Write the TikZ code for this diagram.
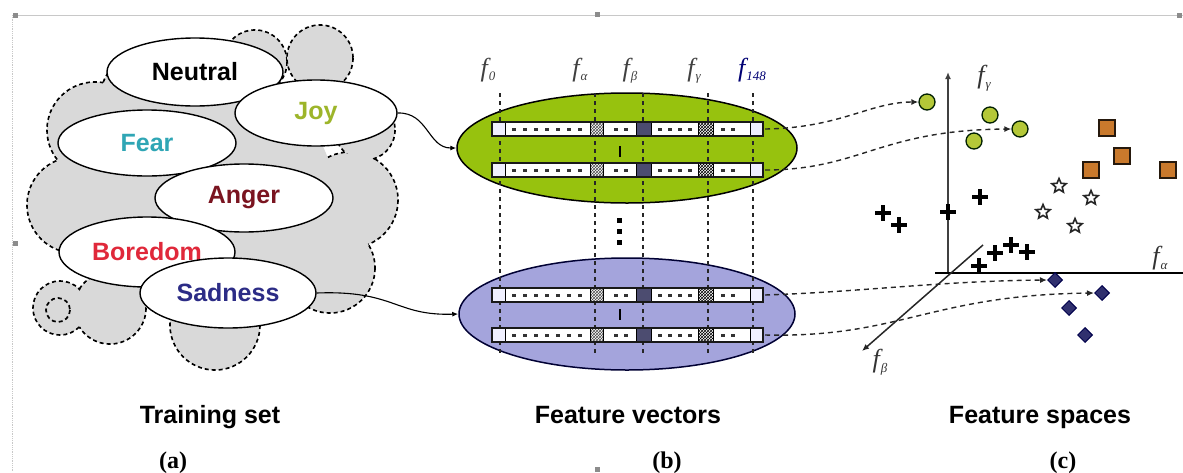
\documentclass[tikz,border=0pt]{standalone}
\usepackage{fontspec}
\setmainfont{Liberation Sans}
\newfontfamily\seriffont{Liberation Serif}
\usetikzlibrary{patterns,arrows.meta,shapes.geometric}
\definecolor{cloudgray}{HTML}{D9D9D9}
\definecolor{joycol}{HTML}{9DB52A}
\definecolor{fearcol}{HTML}{2FA6B5}
\definecolor{angercol}{HTML}{7A1420}
\definecolor{borecol}{HTML}{E0283A}
\definecolor{sadcol}{HTML}{2C2C86}
\definecolor{greenfill}{HTML}{97C20E}
\definecolor{bluefill}{HTML}{A4A4DC}
\definecolor{gdot}{HTML}{B4C838}
\definecolor{osq}{HTML}{C9792C}
\definecolor{dia}{HTML}{30306E}
\definecolor{framegray}{HTML}{C8C8C8}
\newcommand\flab[1]{{\seriffont\itshape f\kern1pt\raisebox{-0.4ex}{\fontsize{13}{13}\selectfont #1}}}
\newcommand\vrow[2]{%
  \fill[white] (492,#2-7) rectangle (763,#2+7);
  \fill[blue!6] (492,#2-7) rectangle (505,#2+7);
  \fill[blue!6] (750,#2-7) rectangle (763,#2+7);
  \fill[pattern=crosshatch,pattern color=black!70] (590,#2-7) rectangle (603,#2+7);
  \fill[black!65!blue!40!gray] (636,#2-7) rectangle (651,#2+7);
  \fill[pattern=crosshatch,pattern color=black] (698,#2-7) rectangle (713,#2+7);
  \draw[cellline] (505,#2-7) -- (505,#2+7) (590,#2-7) -- (590,#2+7) (603,#2-7) -- (603,#2+7)
    (636,#2-7) -- (636,#2+7) (651,#2-7) -- (651,#2+7) (698,#2-7) -- (698,#2+7)
    (713,#2-7) -- (713,#2+7) (750,#2-7) -- (750,#2+7);
  \foreach \xx in {514,525,536,547,558,569,580,616,626,660,670,680,690,723,733}
    \fill[black!80] (\xx-1.8,#2-1.5) rectangle (\xx+1.8,#2+1.5);
  \draw[rowline] (492,#2-7) rectangle (763,#2+7);
  \coordinate (#1) at (765,#2);
}
\begin{document}
\begin{tikzpicture}[x=1pt,y=-1pt,
  cloud/.style={fill=cloudgray,draw=black,line width=1.7pt,dash pattern=on 4pt off 3pt},
  emo/.style={ellipse,draw=black,line width=1.4pt,fill=white,minimum width=176pt,minimum height=68pt,font=\bfseries\fontsize{25}{25}\selectfont},
  cellline/.style={draw=black,line width=1pt},
  rowline/.style={draw=black!90,line width=1.6pt},
  fvline/.style={draw=black!85,line width=1.2pt,dash pattern=on 4pt off 4pt},
  link/.style={draw=black,line width=1.1pt,-{Latex[length=6pt,width=5pt]}},
  dlink/.style={draw=black!85,line width=1.4pt,dash pattern=on 5pt off 4pt,-{Latex[length=7pt,width=6pt]}},
  gc/.style={circle,fill=gdot,draw=black!70!green!40!black,line width=1.3pt,minimum size=16pt,inner sep=0pt},
  os/.style={rectangle,fill=osq,draw=black!80!brown,line width=1.6pt,minimum size=16pt,inner sep=0pt},
  stmark/.style={star,star points=5,star point ratio=2.2,draw=black!85,fill=white,line width=1.6pt,minimum size=15pt,inner sep=0pt},
  dm/.style={diamond,fill=dia,draw=black!70!blue,line width=1pt,minimum size=15pt,inner sep=0pt},
  plmark/.style={draw=black,line width=3.2pt},
  axl/.style={font=\fontsize{26}{26}\selectfont,text=black!80},
  captxt/.style={font=\bfseries\fontsize{25}{25}\selectfont,anchor=base},
  subtxt/.style={font=\seriffont\bfseries\fontsize{24}{24}\selectfont,anchor=base},
  flb/.style={font=\fontsize{26}{26}\selectfont,anchor=base,text=black!75}
]
\useasboundingbox (0,0) rectangle (1183,472);
% frame
\draw[framegray,line width=0.8pt] (12,15) -- (1183,15);
\draw[framegray,line width=0.8pt,densely dotted] (12,15) -- (12,472);
\foreach \p in {(15,15),(597,14),(1179,15),(15,243),(597,469)}
  \fill[black!45] \p ++(-2.5,-2.5) rectangle ++(5,5);

% cloud
\foreach \c/\r in {{(255,62)}/32,{(320,58)}/33,{(350,200)}/48,{(330,268)}/45,{(215,325)}/45,{(110,308)}/36,{(60,308)}/27,{(75,205)}/48,{(95,130)}/48,{(150,100)}/50,{(365,130)}/30}
  \draw[cloud] \c circle (\r);
\foreach \c/\r in {{(255,62)}/32,{(320,58)}/33,{(350,200)}/48,{(330,268)}/45,{(215,325)}/45,{(110,308)}/36,{(60,308)}/27,{(75,205)}/48,{(95,130)}/48,{(150,100)}/50,{(365,130)}/30}
  \fill[cloudgray] \c circle (\r-1.2);
\fill[cloudgray] (210,200) circle (125);
\draw[cloud] (58,310) circle (12);

% emotion ellipses
\node[emo] (neutral) at (195,72) {Neutral};
\node[emo,minimum width=162pt,minimum height=66pt,text=joycol] (joy) at (316,113) {Joy};
\node[emo,minimum width=178pt,minimum height=66pt,text=fearcol] (fear) at (147,143) {Fear};
\node[emo,minimum width=178pt,text=angercol] (anger) at (244,198) {Anger};
\node[emo,minimum width=176pt,minimum height=70pt,text=borecol] (boredom) at (147,252) {Boredom};
\node[emo,minimum width=176pt,minimum height=70pt,text=sadcol] (sadness) at (228,293) {Sadness};

% feature-vector ellipses
\node[ellipse,fill=greenfill,draw=black,line width=1.5pt,minimum width=340pt,minimum height=110pt] (gset) at (627,148) {};
\node[ellipse,fill=bluefill,draw=black!80!blue,line width=1.5pt,minimum width=336pt,minimum height=112pt] (bset) at (627,314) {};

\draw[link] (joy.east) .. controls (428,112) and (428,148) .. (gset.west);
\draw[link] (sadness.east) .. controls (395,290) and (395,316) .. (bset.west);

% dashed feature lines
\foreach \xx in {500,595,643,708,753}
  \draw[fvline] (\xx,93) -- (\xx,356);
\draw[black,line width=1.6pt] (620,146) -- (620,157);
\draw[black,line width=1.6pt] (620,309) -- (620,320);
\foreach \yy in {220,231,242}
  \fill[black] (617,\yy-2.5) rectangle ++(5,5);

% rows
\vrow{ga}{129}
\vrow{gb}{170}
\vrow{ba}{295}
\vrow{bb}{335}

% labels f
\node[flb] (f0) at (488,76) {\flab{0}};
\node[flb] (fa) at (580,76) {\flab{α}};
\node[flb] (fb) at (630,76) {\flab{β}};
\node[flb] (fg) at (694,76) {\flab{γ}};
\node[flb,text=black!55!blue] (f148) at (752,76) {\flab{148}};

% feature space axes
\coordinate (O) at (948,273);
\coordinate (ytop) at (948,72);
\coordinate (xr) at (1183,273);
\coordinate (xl) at (935,273);
\coordinate (dz) at (983,245);
\coordinate (dzb) at (862,351);
\draw[black!75,line width=1.8pt,-{Latex[length=7pt,width=6pt]}] (O) -- (ytop);
\draw[black,line width=2.2pt] (xl) -- (xr);
\draw[black!85,line width=1.5pt,-{Latex[length=7pt,width=6pt]}] (dz) -- (dzb);
\node[axl] (lg) at (984,78) {\flab{γ}};
\node[axl] (la) at (1160,258) {\flab{α}};
\node[axl] (lb) at (880,362) {\flab{β}};

% markers
\node[gc] (g1) at (927,102) {};
\node[gc] (g2) at (990,115) {};
\node[gc] (g3) at (1020,129) {};
\node[gc] (g4) at (974,141) {};
\node[os] (o1) at (1107,128) {};
\node[os] (o2) at (1122,156) {};
\node[os] (o3) at (1091,170) {};
\node[os] (o4) at (1168,170) {};
\node[stmark] (s1) at (1059,186) {};
\node[stmark] (s2) at (1091,198) {};
\node[stmark] (s3) at (1043,212) {};
\node[stmark] (s4) at (1075,226) {};
\foreach \p in {(883,213),(899,225),(948,212),(980,197),(995,253),(1011,245),(1027,252),(979,266)}
  \draw[plmark] \p +(-8,0) -- +(8,0) \p +(0,-8) -- +(0,8);
\node[dm] (d1) at (1055,280) {};
\node[dm] (d2) at (1102,293) {};
\node[dm] (d3) at (1069,308) {};
\node[dm] (d4) at (1085,335) {};

% dashed links
\draw[dlink] (ga) .. controls (840,128) and (870,102) .. (g1.west);
\draw[dlink] (gb) .. controls (860,170) and (880,130) .. (g3.west);
\draw[dlink] (ba) .. controls (860,292) and (940,281) .. (d1.west);
\draw[dlink] (bb) .. controls (900,338) and (930,295) .. (d2.west);

% captions
\node[captxt] (ta) at (210,423) {Training set};
\node[captxt] (tb) at (628,423) {Feature vectors};
\node[captxt] (tc) at (1040,423) {Feature spaces};
\node[subtxt] (sa) at (173,468) {(a)};
\node[subtxt] (sb) at (667,468) {(b)};
\node[subtxt] (sc) at (1063,468) {(c)};
\end{tikzpicture}
\end{document}
